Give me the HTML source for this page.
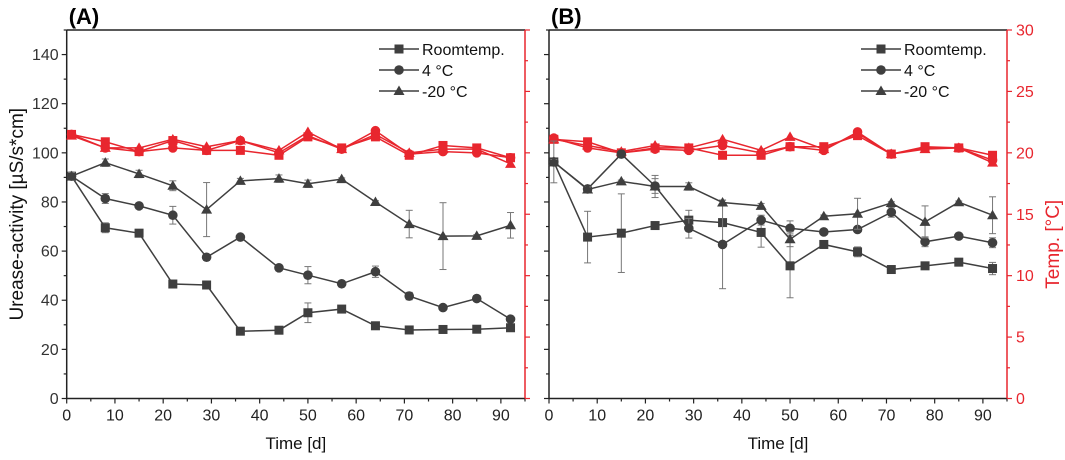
<!DOCTYPE html>
<html><head><meta charset="utf-8"><style>
body{margin:0;background:#fff;}
svg{display:block;font-family:"Liberation Sans",Arial,sans-serif;}
</style></head><body>
<svg id="chart" width="1065" height="460" viewBox="0 0 1065 460" xmlns="http://www.w3.org/2000/svg"></svg>
<script>
const days = [1,8,15,22,29,36,44,50,57,64,71,78,85,92];
const seriesNames = ["Roomtemp.","4 °C","-20 °C"];
const aRoom = [90.5,69.5,67.3,46.6,46.2,27.4,27.8,34.9,36.4,29.6,27.9,28.1,28.2,28.8];
const aRoomErr = [1.5,2,1,1,1.5,0.5,0.5,4,1,1.5,0.5,0.5,0.5,0.5];
const a4 = [90.5,81.4,78.4,74.6,57.5,65.7,53.2,50.2,46.7,51.6,41.7,37.0,40.7,32.3];
const a4Err = [1.5,2,1,3.6,1,0.5,0.5,3.5,0.5,2.3,1.5,1,1,0.5];
const a20 = [90.5,96.0,91.4,86.6,76.9,88.6,89.5,87.4,89.3,80.0,71.0,66.1,66.2,70.5];
const a20Err = [1.5,1.5,1.5,2,11,1,1.5,1.5,0.5,0.5,5.6,13.6,0.5,5.2];
const aTRoom = [21.5,20.9,20.1,21.0,20.2,20.2,19.8,21.3,20.4,21.3,19.8,20.6,20.4,19.6];
const aT4 = [21.5,20.4,20.1,20.4,20.2,21.0,20.0,21.4,20.3,21.8,19.9,20.1,20.0,19.6];
const aT20 = [21.4,20.4,20.4,21.1,20.5,21.0,20.2,21.7,20.3,21.5,20.0,20.3,20.3,19.1];
const bRoom = [96.3,65.7,67.3,70.4,72.6,71.6,67.6,54.0,62.7,59.7,52.5,54.0,55.5,52.9];
const bRoomErr = [8.5,10.5,16,1,4,1,6,13,0.5,2,0.5,0.5,0.5,2.5];
const b4 = [96.3,85.3,99.5,86.5,69.3,62.7,72.6,69.3,67.8,68.8,75.8,63.8,66.1,63.4];
const b4Err = [1,1,0.5,3,4,18,2,3,0.5,1,2,2,0.5,2];
const b20 = [96.3,85.1,88.4,86.3,86.3,79.8,78.4,64.8,74.2,75.2,79.6,71.9,79.9,74.6];
const b20Err = [1,1,0.5,4.5,1.5,1,1,3,0.5,6.3,0.5,6.5,0.5,7.5];
const bTRoom = [21.1,20.9,20.0,20.4,20.4,19.8,19.8,20.5,20.5,21.4,19.9,20.5,20.4,19.8];
const bT4 = [21.2,20.4,20.0,20.3,20.2,20.6,20.0,20.5,20.2,21.7,19.9,20.4,20.4,19.4];
const bT20 = [21.1,20.6,20.1,20.6,20.4,21.1,20.2,21.3,20.3,21.6,19.9,20.3,20.4,19.2];
const xTicks = [0,10,20,30,40,50,60,70,80,90];
const yTicks = [0,20,40,60,80,100,120,140];
const tTicks = [0,5,10,15,20,25,30];

const NS="http://www.w3.org/2000/svg";
const svg=document.getElementById('chart');
const GREY="#3f3f3f", RED="#e8262e", AX="#222";
function el(tag,attrs,parent){const e=document.createElementNS(NS,tag);for(const k in attrs)e.setAttribute(k,attrs[k]);(parent||svg).appendChild(e);return e;}

function marker(g,shape,x,y,color){
  let m;
  if(shape===0)m=el('rect',{x:x-4.5,y:y-4.5,width:9,height:9,fill:color},g);
  else if(shape===1)m=el('circle',{cx:x,cy:y,r:4.8,fill:color},g);
  else m=el('polygon',{points:`${x},${y-5.5} ${x+5.5},${y+4} ${x-5.5},${y+4}`,fill:color},g);
  return m;
}

function panel(L,R,label,series,errs,temps,showLeft,showRight){
  const T=30,B=398.5;
  const xs=v=>L+v*(R-L)/95;
  const ys=v=>B-v*(B-T)/150;
  const yt=v=>B-v*(B-T)/30;
  const g=el('g',{});
  
  
  el('line',{x1:L,y1:T,x2:R,y2:T,stroke:AX,'stroke-width':1.5},g);
  el('line',{x1:L,y1:B,x2:R,y2:B,stroke:AX,'stroke-width':1.6},g);
  el('line',{x1:L,y1:T,x2:L,y2:B,stroke:AX,'stroke-width':1.5},g);
  el('line',{x1:R,y1:T,x2:R,y2:B,stroke:RED,'stroke-width':1.5},g);
  const t=el('text',{x:L+2,y:24,'font-size':22,'font-weight':'bold',fill:'#000'},g);
  t.textContent=label;
  
  
  for(let v=0;v<=95;v+=5){
    const major=v%10===0;
    el('line',{x1:xs(v),y1:B,x2:xs(v),y2:B+(major?5:3),stroke:AX,'stroke-width':1.2},g);
  }
  xTicks.forEach(v=>{
    const tx=el('text',{x:xs(v),y:B+22,'text-anchor':'middle','font-size':16,fill:'#222'},g);
    tx.textContent=v;
    
    
  });
  const xt=el('text',{x:(L+R)/2,y:449,'text-anchor':'middle','font-size':17,fill:'#111'},g);
  xt.textContent='Time [d]';
  
  
  for(let v=0;v<=150;v+=10){
    const major=v%20===0;
    el('line',{x1:L,y1:ys(v),x2:L-(major?5:3),y2:ys(v),stroke:AX,'stroke-width':1.2},g);
  }
  if(showLeft){
    yTicks.forEach(v=>{
      const ty=el('text',{x:L-8,y:ys(v)+5.5,'text-anchor':'end','font-size':16,fill:'#333'},g);
      ty.textContent=v;
      
      
    });
    const yl=el('text',{x:0,y:0,transform:`translate(23,${(T+B)/2}) rotate(-90)`,'text-anchor':'middle','font-size':19,fill:'#111'},g);
    yl.textContent='Urease-activity [µS/s*cm]';
    
    
  }
  for(let v=0;v<=30;v+=2.5){
    const major=v%5===0;
    el('line',{x1:R,y1:yt(v),x2:R+(major?5:3),y2:yt(v),stroke:RED,'stroke-width':1.2},g);
  }
  if(showRight){
    tTicks.forEach(v=>{
      const ty=el('text',{x:R+9,y:yt(v)+5.5,'font-size':16,fill:RED},g);
      ty.textContent=v;
      
      
    });
    const yr=el('text',{x:0,y:0,transform:`translate(${R+52},${(T+B)/2+30}) rotate(-90)`,'text-anchor':'middle','font-size':19,fill:RED},g);
    yr.textContent='Temp. [°C]';
    
    
  }
  temps.forEach((s,si)=>{
    const pg=el('g',{},g);
    
    
    el('polyline',{points:days.map((d,i)=>xs(d)+','+yt(s[i])).join(' '),fill:'none',stroke:RED,'stroke-width':1.5},pg);
    days.forEach((d,i)=>marker(pg,si,xs(d),yt(s[i]),RED));
  });
  series.forEach((s,si)=>{
    const pg=el('g',{},g);
    
    
    days.forEach((d,i)=>{
      const e=errs[si][i],x=xs(d);
      el('line',{x1:x,y1:ys(s[i]-e),x2:x,y2:ys(s[i]+e),stroke:'#777','stroke-width':1},pg);
      el('line',{x1:x-3.5,y1:ys(s[i]-e),x2:x+3.5,y2:ys(s[i]-e),stroke:'#777','stroke-width':1},pg);
      el('line',{x1:x-3.5,y1:ys(s[i]+e),x2:x+3.5,y2:ys(s[i]+e),stroke:'#777','stroke-width':1},pg);
    });
    el('polyline',{points:days.map((d,i)=>xs(d)+','+ys(s[i])).join(' '),fill:'none',stroke:GREY,'stroke-width':1.5},pg);
    days.forEach((d,i)=>marker(pg,si,xs(d),ys(s[i]),GREY));
  });
  seriesNames.forEach((n,i)=>{
    const lg=el('g',{},g);
    
    
    const ly=49+i*21, lx=R-146;
    el('line',{x1:lx,y1:ly,x2:lx+40,y2:ly,stroke:GREY,'stroke-width':1.5},lg);
    marker(lg,i,lx+20,ly,GREY);
    const lt=el('text',{x:lx+43,y:ly+6,'font-size':16,fill:'#111'},lg);
    lt.textContent=n;
  });
}
panel(66.7,525,'(A)',[aRoom,a4,a20],[aRoomErr,a4Err,a20Err],[aTRoom,aT4,aT20],true,false);
panel(549,1007,'(B)',[bRoom,b4,b20],[bRoomErr,b4Err,b20Err],[bTRoom,bT4,bT20],false,true);
</script>
</body></html>
